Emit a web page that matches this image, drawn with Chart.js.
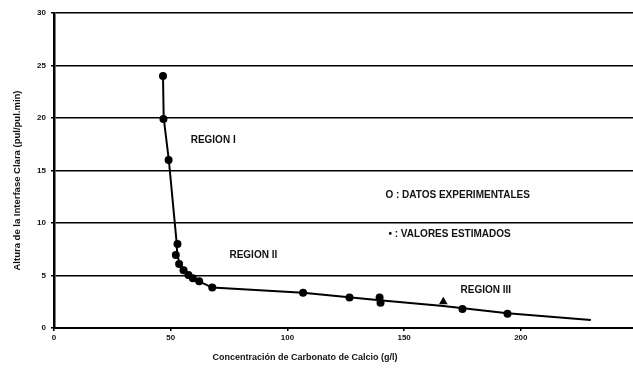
<!DOCTYPE html>
<html>
<head>
<meta charset="utf-8">
<script src="https://cdn.jsdelivr.net/npm/chart.js@4"></script>
<style>
  body { margin: 0; background: #fff; overflow: hidden; }
  #chart { display: block; }
</style>
</head>
<body>
<canvas id="chart" width="639" height="369"></canvas>
<script>
const expX = [46.7, 46.9, 49.1, 52.9, 52.2, 53.6, 55.5, 57.6, 59.5, 62.2, 67.8, 106.7, 126.6, 139.5, 139.9, 175.0, 194.3];
const expY = [24.0, 19.9, 16.0, 8.0, 6.95, 6.1, 5.5, 5.05, 4.75, 4.45, 3.85, 3.35, 2.9, 2.9, 2.4, 1.8, 1.35];

// estimated value
const estX = [166.8];
const estY = [2.5];

// fitted curve
const fitX = [46.7, 47.0, 49.2, 52.6, 52.8, 54.0, 55.7, 57.8, 60.0, 63.0, 67.8, 106.7, 139.5, 166.8, 194.3, 230.0];
const fitY = [24.0, 20.0, 16.0, 8.0, 6.9, 6.1, 5.45, 5.0, 4.65, 4.35, 3.85, 3.35, 2.65, 2.1, 1.4, 0.76];

const yTicks = [0, 5, 10, 15, 20, 25, 30];
const xTicks = [0, 50, 100, 150, 200];

const xTitle = "Concentración de Carbonato de Calcio (g/l)";
const yTitle = "Altura de la Interfase Clara (pul/pul.min)";

const notes = [
  { text: "REGION I", x: 68.2, y: 17.9, align: "center" },
  { text: "REGION II", x: 85.4, y: 6.9, align: "center" },
  { text: "REGION III", x: 185, y: 3.6, align: "center" },
  { text: "O : DATOS EXPERIMENTALES", x: 142, y: 12.6, align: "left" },
  { text: "\u2022 : VALORES ESTIMADOS", x: 143.3, y: 8.9, align: "left" }
];

const FONT = "'Liberation Sans', Arial, sans-serif";
const toPts = (xs, ys) => xs.map((x, i) => ({ x: x, y: ys[i] }));

const notesPlugin = {
  id: "notes",
  afterDatasetsDraw(c) {
    const ctx = c.ctx;
    const xs = c.scales.x, ys = c.scales.y;
    ctx.save();
    ctx.fillStyle = "#111";
    ctx.textBaseline = "middle";
    ctx.font = "bold 10px " + FONT;
    notes.forEach(n => {
      ctx.textAlign = n.align;
      ctx.fillText(n.text, xs.getPixelForValue(n.x), ys.getPixelForValue(n.y));
    });
    // axis titles
    ctx.font = "bold 9px " + FONT;
    ctx.textAlign = "center";
    ctx.fillText(xTitle, xs.getPixelForValue(107.5), xs.bottom - 11);
    ctx.font = "bold 9.5px " + FONT;
    ctx.translate(17, (ys.top + ys.bottom) / 2 + 10);
    ctx.rotate(-Math.PI / 2);
    ctx.fillText(yTitle, 0, 0);
    ctx.restore();
  }
};

const chart = new Chart(document.getElementById("chart"), {
  type: "scatter",
  data: {
    datasets: [
      {
        data: toPts(fitX, fitY),
        showLine: true,
        borderColor: "#000",
        borderWidth: 2,
        pointRadius: 0,
        tension: 0
      },
      {
        data: toPts(expX, expY),
        backgroundColor: "#000",
        borderColor: "#000",
        borderWidth: 0,
        pointRadius: 4,
        pointStyle: "circle"
      },
      {
        data: toPts(estX, estY),
        backgroundColor: "#000",
        borderColor: "#000",
        borderWidth: 0,
        pointRadius: 5,
        pointStyle: "triangle"
      }
    ]
  },
  options: {
    responsive: false,
    animation: false,
    layout: { padding: { top: 13, right: 0, left: 0, bottom: 0 } },
    plugins: { legend: { display: false }, tooltip: { enabled: false } },
    scales: {
      x: {
        type: "linear",
        min: 0,
        max: 248.5,
        afterBuildTicks: s => { s.ticks = xTicks.map(v => ({ value: v })); },
        afterFit: s => { s.height = 41; },
        ticks: {
          color: "#111",
          font: { family: FONT, size: 8, weight: "bold" },
          padding: 2,
          maxRotation: 0
        },
        grid: { color: "#000", lineWidth: 1.5, drawOnChartArea: false, tickLength: 3 },
        border: { color: "#000", width: 2 }
      },
      y: {
        min: 0,
        max: 30,
        afterBuildTicks: s => { s.ticks = yTicks.map(v => ({ value: v })); },
        afterFit: s => { s.width = 54; },
        ticks: {
          color: "#111",
          font: { family: FONT, size: 8, weight: "bold" },
          padding: 5
        },
        grid: { color: "#000", lineWidth: 1.6, tickLength: 3 },
        border: { color: "#000", width: 2.5 }
      }
    }
  },
  plugins: [notesPlugin]
});
</script>
</body>
</html>
